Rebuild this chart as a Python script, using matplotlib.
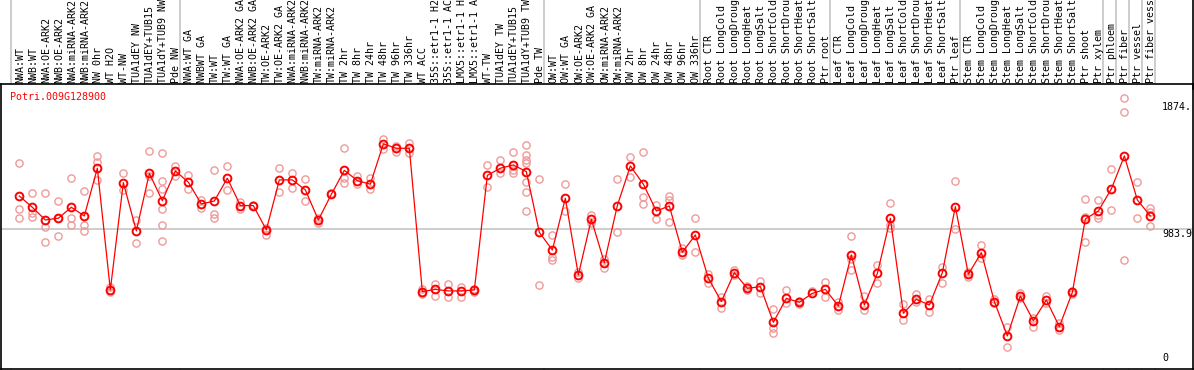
import matplotlib
matplotlib.use('Agg')
import matplotlib.pyplot as plt
import matplotlib.transforms as mtransforms
from matplotlib.lines import Line2D

# sample labels, one per column
labels = ['NWA:WT', 'NWB:WT', 'NWA:OE-ARK2', 'NWB:OE-ARK2', 'NWA:miRNA-ARK2',
          'NWB:miRNA-ARK2', 'NW 0hr', 'WT H2O', 'WT-NW', 'TUA1dEY NW',
          'TUA1dEY+TUB15', 'TUA1dY+TUB9 NW', 'Pde NW',
          'NWA:WT GA', 'NWBWT GA', 'TW:WT', 'TW:WT GA', 'NWA:OE-ARK2 GA',
          'NWB:OE-ARK2 GA', 'TW:OE-ARK2', 'TW:OE-ARK2 GA', 'NWA:miRNA-ARK2 GA',
          'NWB:miRNA-ARK2 GA', 'TW:miRNA-ARK2', 'TW:miRNA-ARK2', 'TW 2hr',
          'TW 8hr', 'TW 24hr', 'TW 48hr', 'TW 96hr', 'TW 336hr', 'WT ACC',
          '35S::etr1-1 H2O', '35S::etr1-1 ACC', 'LMX5::etr1-1 H2O',
          'LMX5::etr1-1 ACC', 'WT-TW', 'TUA1dEY TW', 'TUA1dEY+TUB15',
          'TUA1dY+TUB9 TW', 'Pde TW',
          'OW:WT', 'OW:WT GA', 'OW:OE-ARK2', 'OW:OE-ARK2 GA', 'OW:miRNA-ARK2',
          'OW:miRNA-ARK2', 'OW 2hr', 'OW 8hr', 'OW 24hr', 'OW 48hr',
          'OW 96hr', 'OW 336hr',
          'Root CTR', 'Root LongCold', 'Root LongDrought', 'Root LongHeat',
          'Root LongSalt', 'Root ShortCold', 'Root ShortDrought',
          'Root ShortHeat', 'Root ShortSalt', 'Ptr root',
          'Leaf CTR', 'Leaf LongCold', 'Leaf LongDrought', 'Leaf LongHeat',
          'Leaf LongSalt', 'Leaf ShortCold', 'Leaf ShortDrought',
          'Leaf ShortHeat', 'Leaf ShortSalt', 'Ptr leaf',
          'Stem CTR', 'Stem LongCold', 'Stem LongDrought', 'Stem LongHeat',
          'Stem LongSalt', 'Stem ShortCold', 'Stem ShortDrought',
          'Stem ShortHeat', 'Stem ShortSalt', 'Ptr shoot', 'Ptr xylem',
          'Ptr phloem', 'Ptr fiber', 'Ptr vessel', 'Ptr fiber vessel']

# mean expression per sample
means = [1214, 1135, 1046, 1058, 1135, 1074, 1409, 555, 1308, 969,
         1373, 1181, 1390,
         1311, 1158, 1179, 1339, 1147, 1147, 976, 1327, 1327, 1257, 1046,
         1226, 1394, 1322, 1297, 1580, 1549, 1549, 543, 559, 548, 548, 555,
         1359, 1409, 1432, 1385, 959,
         835, 1198, 660, 1051, 746, 1147, 1425, 1297, 1109, 1144, 819, 941,
         637, 473, 676, 566, 578, 328, 496, 468, 531, 559,
         442, 800, 449, 671, 1058, 391, 489, 449, 676, 1139,
         665, 817, 473, 232, 512, 339, 484, 297, 538, 1053, 1109,
         1264, 1495, 1186, 1074]

# individual replicates
reps = [[1444, 1121, 1058], [1233, 1093, 1069], [1233, 999, 894],
        [1179, 1058, 934], [1339, 1058, 1011], [1250, 1011, 969],
        [1495, 1455, 1327], [573, 538], [1373, 1257], [1046, 882],
        [1530, 1233, 1355], [1513, 1320, 1261, 1121, 1011, 899], [1425, 1355],
        [1362, 1261], [1186, 1128], [1397, 1086, 1062], [1425, 1257],
        [1175, 1123], [1150], [992, 941], [1409, 1240], [1373, 1268],
        [1331, 1179], [1058, 1027], [1233], [1549, 1339, 1303], [1355, 1300],
        [1339, 1261], [1612, 1542], [1565, 1525], [1589, 1518], [562, 527],
        [594, 515], [594, 503], [578, 503], [562, 541], [1432, 1280],
        [1467, 1378], [1523, 1378, 1395],
        [1572, 1502, 1467, 1444, 1315, 1245, 1109], [1334, 590],
        [941, 788, 765], [1297, 1109], [680, 640], [1081, 1023], [711, 770],
        [1331, 959], [1485, 1350], [1521, 1210, 1156], [1151, 1051],
        [1214, 1186, 1030], [847, 800], [1058, 819],
        [665, 606], [503, 426], [693, 660], [580, 555], [618, 536],
        [419, 286, 255], [555, 461], [480, 455], [545], [613, 508],
        [470, 414], [934, 695, 770], [512, 414], [730, 601],
        [1163, 1011, 990], [454, 344], [527, 470], [489, 402], [714, 601],
        [1320, 981],
        [648, 680], [870, 781], [460, 490], [293, 152], [536, 495],
        [360, 297], [512, 460], [321, 274], [550, 525], [1193, 889, 1070],
        [1186, 1058, 1080], [1404, 1116], [1900, 1806, 765], [1311, 1062],
        [1128, 1100, 1006]]

# first column of each sample group
group_starts = [0, 13, 41, 53, 63, 73, 84, 85, 86, 87, 88]

gene = 'Potri.009G128900'
mid_value = 983.9
top_value = 1874.

mono = 'DejaVu Sans Mono'
fs = 7.2

fig = plt.figure(figsize=(11.94, 3.70), dpi=100)
ax = fig.add_axes([1/1194, 1/370, 1192/1194, (369-84.3)/370])
ax.set_xlim(-1.41, 90.28)
ax.set_ylim(0, 1998)
ax.set_xticks([])
ax.set_yticks([])
for s in ax.spines.values():
    s.set_color('black')
    s.set_linewidth(1.2)

# group separators, drawn through the label area too
trans = mtransforms.blended_transform_factory(ax.transData, fig.transFigure)
for g in group_starts:
    fig.add_artist(Line2D([g - 0.62, g - 0.62], [0, 1], transform=trans,
                          color='#c0c0c0', lw=1.1, zorder=0))
fig.add_artist(Line2D([1 - 0.7/1194, 1 - 0.7/1194], [0.76, 1],
                      transform=fig.transFigure, color='black', lw=1.2))
ax.axhline(mid_value, color='#c0c0c0', lw=1.1, zorder=0)

xs = list(range(len(labels)))

# replicates
for i in xs:
    ax.plot([i] * len(reps[i]), reps[i], 'o', ms=5.2, mfc='none',
            mec='#ef9a9a', mew=1.0, zorder=2, clip_on=False)

# means
ax.plot(xs, means, '-', color='red', lw=0.9, zorder=3)
ax.plot(xs, means, 'o', ms=5.6, mfc='none', mec='red', mew=1.4, zorder=4)

# sample names above the plot
label_y = (370 - 83) / 370
for i, lab in enumerate(labels):
    ax.text(i + 0.05, label_y, lab, transform=trans, rotation=90,
            ha='center', va='bottom', fontsize=fs, family=mono,
            color='black', clip_on=False)

fig.text(10/1194, 1 - 97/370, gene, color='red', fontsize=fs, family=mono,
         va='center', ha='left')

ax.text(87.9, top_value, '1874.', fontsize=fs, family=mono, va='top',
        ha='left')
ax.text(87.9, mid_value, '983.9', fontsize=fs, family=mono, va='top',
        ha='left')
ax.text(87.9, 45, '0', fontsize=fs, family=mono, va='bottom', ha='left')

fig.savefig('out.png', dpi=100, facecolor='white')
